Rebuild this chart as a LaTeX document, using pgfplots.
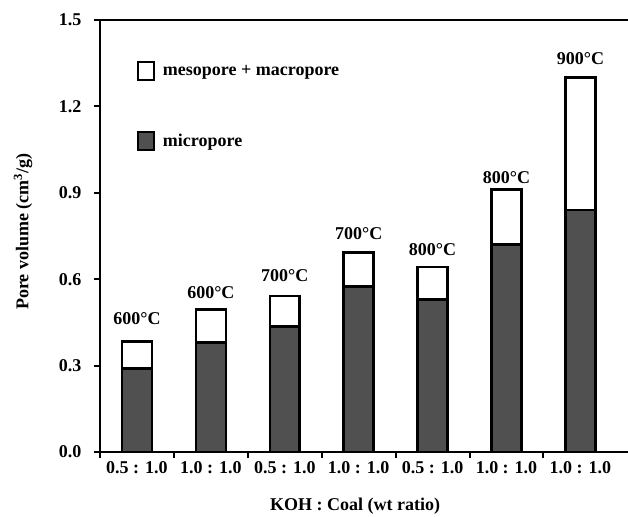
\documentclass[border=0pt]{standalone}
\usepackage{fontspec}
\setmainfont{Liberation Serif}
\usepackage{pgfplots}
\usepackage{pgfplotstable}
\pgfplotsset{compat=1.18}
\definecolor{micro}{RGB}{80,80,80}
\pgfplotstableread{
x micro
0 0.290
1 0.380
2 0.435
3 0.575
4 0.530
5 0.720
6 0.840
}\microdata
\pgfplotstableread{
x meso
0 0.093
1 0.115
2 0.107
3 0.118
4 0.113
5 0.192
6 0.460
}\mesodata
\pgfplotstableread{
x top label
0 0.083 600°C
1 0.042 600°C
2 0.062 700°C
3 0.055 700°C
4 0.042 800°C
5 0.0001 800°C
6 0.055 900°C
}\labeldata
\begin{document}
\begin{tikzpicture}
\useasboundingbox (-100pt,-64pt) rectangle (528pt,452pt);
\begin{axis}[
  at={(0pt,0pt)}, anchor=south west,
  width=528pt, height=432pt, scale only axis,
  ybar stacked, bar width=0.405,
  xmin=-0.5, xmax=6.644,
  ymin=0, ymax=1.5,
  axis x line*=box, axis y line*=left,
  axis line style={line width=2.5pt},
  every tick/.style={black, line width=2pt},
  tick align=outside,
  major tick length=6pt,
  xtick={-0.5,0.5,...,5.5}, xticklabels={},
  xtick pos=bottom,
  extra x ticks={0,1,2,3,4,5,6},
  extra x tick labels={0.5 : 1.0,1.0 : 1.0,0.5 : 1.0,1.0 : 1.0,0.5 : 1.0,1.0 : 1.0,1.0 : 1.0},
  extra x tick style={major tick length=0pt, xticklabel style={yshift=-6pt}},
  ytick={0,0.3,0.6,0.9,1.2,1.5},
  ytick pos=left,
  yticklabel style={/pgf/number format/.cd, fixed, fixed zerofill, precision=1, /tikz/.cd, xshift=-9pt},
  every tick label/.append style={font=\fontsize{18}{20}\selectfont\bfseries},
  /pgf/number format/assume math mode=true,
  xlabel={KOH : Coal (wt ratio)},
  ylabel={Pore volume (cm\textsuperscript{3}/g)},
  label style={font=\fontsize{18}{20}\selectfont\bfseries},
  xlabel style={at={(axis description cs:0.483,0)}, anchor=center, yshift=-54pt},
  ylabel style={at={(axis description cs:0,0.51)}, anchor=center, yshift=77pt},
  legend style={at={(axis description cs:0.07,0.905)}, anchor=north west, draw=none, fill=none,
    font=\fontsize{18}{20}\selectfont\bfseries, row sep=50pt, column sep=5pt, inner sep=0pt,
    nodes={inner sep=3pt}},
  legend cell align=left,
  reverse legend,
  legend image code/.code={\draw[line width=1.8pt] (0pt,-9pt) rectangle (16pt,9pt);},
]
\addplot[fill=micro, draw=black, line width=2.5pt] table[x=x, y=micro] {\microdata};
\addlegendentry{micropore}
\addplot[fill=white, draw=black, line width=2.5pt] table[x=x, y=meso] {\mesodata};
\addlegendentry{mesopore + macropore}
\addplot[draw=none, fill=none, forget plot,
  nodes near coords, point meta=explicit symbolic,
  nodes near coords style={font=\fontsize{18}{20}\selectfont\bfseries, text=black, anchor=south, inner sep=0pt, yshift=5pt}]
  table[x=x, y=top, meta=label] {\labeldata};
\end{axis}
\end{tikzpicture}
\end{document}
